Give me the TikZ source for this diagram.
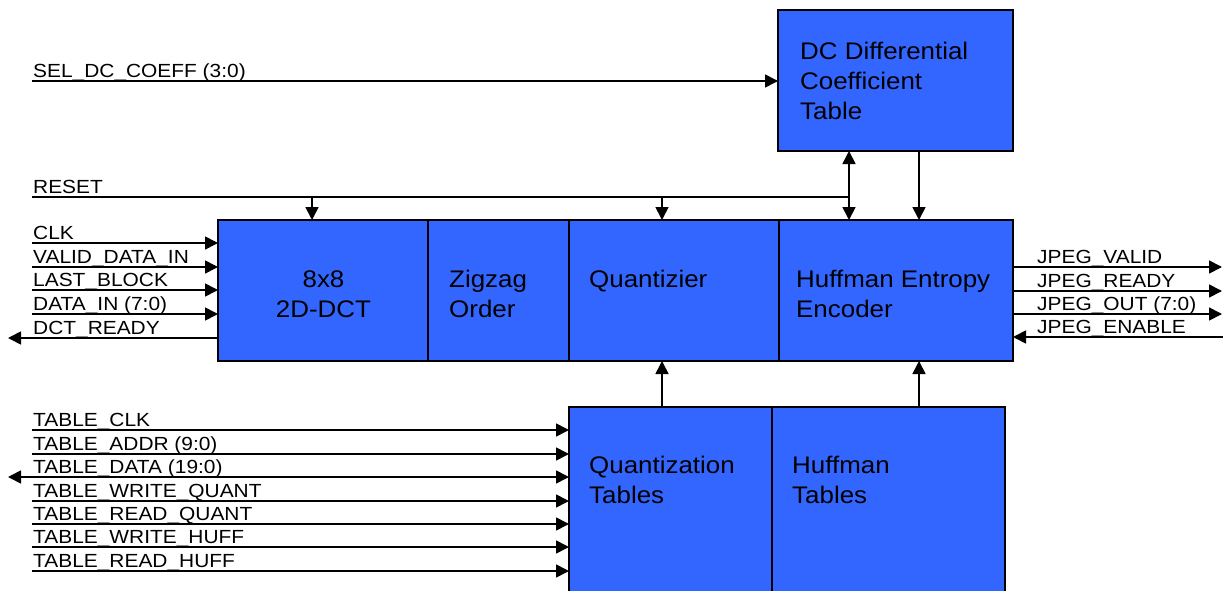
\documentclass[tikz,border=0pt]{standalone}
\usepackage{fontspec}
\setmainfont{Liberation Sans}
\newfontfamily\sigfont[FakeStretch=1.1]{Liberation Sans}
\newfontfamily\blkfont[FakeStretch=1.08]{Liberation Sans}
\usetikzlibrary{arrows.meta}
\definecolor{boxblue}{HTML}{3366FF}
\begin{document}
\begin{tikzpicture}[x=1pt,y=-1pt,
  blk/.style={draw=black, line width=1.3pt, fill=boxblue, inner sep=0pt, outer sep=0pt, rectangle},
  btxt/.style={anchor=base west, align=left, inner sep=0pt, font=\blkfont\fontsize{24}{30}\selectfont},
  ctxt/.style={anchor=base, inner sep=0pt, font=\blkfont\fontsize{24}{30}\selectfont},
  sig/.style={anchor=base west, inner sep=0pt, font=\sigfont\fontsize{19}{24}\selectfont},
  wire/.style={line width=1.7pt, -{Triangle[length=13pt,width=13pt]}},
  biwire/.style={line width=1.7pt, {Triangle[length=13pt,width=13pt]}-{Triangle[length=13pt,width=13pt]}},
  plain/.style={line width=1.7pt}
]
\useasboundingbox (0,0) rectangle (1223,591);

% blocks
\node[blk, minimum width=235, minimum height=141] (dc)  at (895.5,80.5) {};
\node[blk, minimum width=210, minimum height=141] (dct) at (323,290.5) {};
\node[blk, minimum width=141, minimum height=141] (zz)  at (498.5,290.5) {};
\node[blk, minimum width=210, minimum height=141] (qz)  at (674,290.5) {};
\node[blk, minimum width=234, minimum height=141] (he)  at (896,290.5) {};
\node[blk, minimum width=203, minimum height=200] (qt)  at (670.5,507) {};
\node[blk, minimum width=233, minimum height=200] (ht)  at (888.5,507) {};

% block texts (base anchor = baseline of the last line)
\node[btxt] (dct1) at (800,120) {DC Differential\\Coefficient\\Table};
\node[ctxt] (dcta) at (323.5,287) {8x8};
\node[ctxt] (dctb) at (323.5,317) {2D-DCT};
\node[btxt] (zzt) at (449,317) {Zigzag\\Order};
\node[btxt] (qzt) at (589,287) {Quantizier};
\node[btxt] (het) at (796,317) {Huffman Entropy\\Encoder};
\node[btxt] (qtt) at (589,503) {Quantization\\Tables};
\node[btxt] (htt) at (792,503) {Huffman\\Tables};

% SEL_DC_COEFF
\coordinate (sel) at (32,81);
\draw[wire] (sel) -- (sel -| dc.west);
\node[sig] (lsel) at (33,77.5) {SEL\_DC\_COEFF (3:0)};

% RESET
\coordinate (rst) at (32,197);
\coordinate (rj) at (849,197);
\draw[plain] (rst) -- (rj);
\node[sig] (lrst) at (33,193.5) {RESET};
\coordinate (r1) at (312,197);
\coordinate (r2) at (662,197);
\draw[wire] (r1) -- (r1 |- dct.north);
\draw[wire] (r2) -- (r2 |- qz.north);

% DC table <-> Huffman encoder
\coordinate (dcA) at (849,151);
\coordinate (dcB) at (919,151);
\draw[biwire] (dcA) -- (dcA |- he.north);
\draw[wire] (dcB) -- (dcB |- he.north);

% tables -> quantizer / encoder
\coordinate (qA) at (662,407);
\coordinate (hA) at (919,407);
\draw[wire] (qA) -- (qA |- qz.south);
\draw[wire] (hA) -- (hA |- he.south);

% DCT inputs
\coordinate (s1) at (32,243);
\coordinate (s2) at (32,267);
\coordinate (s3) at (32,290);
\coordinate (s4) at (32,314);
\coordinate (s5) at (8,338);
\draw[wire] (s1) -- (s1 -| dct.west);
\draw[wire] (s2) -- (s2 -| dct.west);
\draw[wire] (s3) -- (s3 -| dct.west);
\draw[wire] (s4) -- (s4 -| dct.west);
\draw[wire] (s5 -| dct.west) -- (s5);
\node[sig] (l1) at (33,239.5) {CLK};
\node[sig] (l2) at (33,263.5) {VALID\_DATA\_IN};
\node[sig] (l3) at (33,286.5) {LAST\_BLOCK};
\node[sig] (l4) at (33,310.5) {DATA\_IN (7:0)};
\node[sig] (l5) at (33,334.5) {DCT\_READY};

% JPEG outputs
\coordinate (j1) at (1222,267);
\coordinate (j2) at (1222,291);
\coordinate (j3) at (1222,314);
\coordinate (j4) at (1223,337);
\draw[wire] (j1 -| he.east) -- (j1);
\draw[wire] (j2 -| he.east) -- (j2);
\draw[wire] (j3 -| he.east) -- (j3);
\draw[wire] (j4) -- (j4 -| he.east);
\node[sig] (m1) at (1037,263.5) {JPEG\_VALID};
\node[sig] (m2) at (1037,287.5) {JPEG\_READY};
\node[sig] (m3) at (1037,310.5) {JPEG\_OUT (7:0)};
\node[sig] (m4) at (1037,333.5) {JPEG\_ENABLE};

% table signals
\coordinate (t1) at (32,430);
\coordinate (t2) at (32,454);
\coordinate (t3) at (8,477);
\coordinate (t4) at (32,501);
\coordinate (t5) at (32,524);
\coordinate (t6) at (32,547);
\coordinate (t7) at (32,571);
\draw[wire] (t1) -- (t1 -| qt.west);
\draw[wire] (t2) -- (t2 -| qt.west);
\draw[biwire] (t3) -- (t3 -| qt.west);
\draw[wire] (t4) -- (t4 -| qt.west);
\draw[wire] (t5) -- (t5 -| qt.west);
\draw[wire] (t6) -- (t6 -| qt.west);
\draw[wire] (t7) -- (t7 -| qt.west);
\node[sig] (n1) at (33,426.5) {TABLE\_CLK};
\node[sig] (n2) at (33,450.5) {TABLE\_ADDR (9:0)};
\node[sig] (n3) at (33,473.5) {TABLE\_DATA (19:0)};
\node[sig] (n4) at (33,497.5) {TABLE\_WRITE\_QUANT};
\node[sig] (n5) at (33,520.5) {TABLE\_READ\_QUANT};
\node[sig] (n6) at (33,543.5) {TABLE\_WRITE\_HUFF};
\node[sig] (n7) at (33,567.5) {TABLE\_READ\_HUFF};
\end{tikzpicture}
\end{document}
